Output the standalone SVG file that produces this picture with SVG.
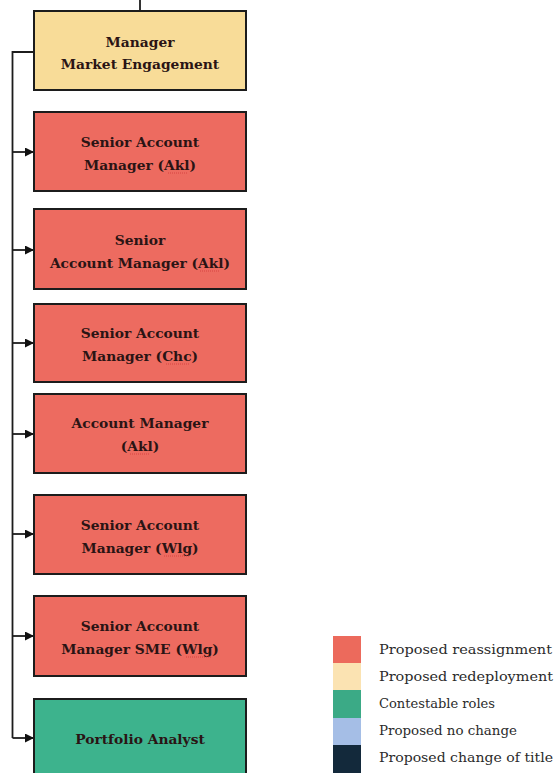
<svg xmlns="http://www.w3.org/2000/svg" width="558" height="773" viewBox="0 0 558 773">
  <style>
    .box { stroke: #1c1c1c; stroke-width: 2; }
    .red { fill: #ED6B60; }
    .cream { fill: #F8DC98; }
    .green { fill: #3DB38D; }
    .lbl { font-family: "DejaVu Serif", "Liberation Serif", serif; font-weight: bold; font-size: 13.8px; fill: #2a1414; text-anchor: middle; }
    .wire { stroke: #1c1c1c; stroke-width: 1.8; fill: none; }
    .squig { stroke: #d23a3a; stroke-width: 0.8; fill: none; stroke-dasharray: 1 1; }
    .leg { font-family: "DejaVu Serif", "Liberation Serif", serif; font-size: 13px; fill: #2b2b2b; }
  </style>
  <defs>
    <marker id="arrow" viewBox="0 0 10 10" refX="10" refY="5" markerWidth="9" markerHeight="9" markerUnits="userSpaceOnUse" orient="auto">
      <path d="M0,0 L10,5 L0,10 Z" fill="#111"/>
    </marker>
  </defs>

  <rect width="558" height="773" fill="#ffffff"/>

  <!-- connectors -->
  <g id="connectors">
    <line class="wire" x1="140" y1="0" x2="140" y2="11"/>
    <polyline class="wire" points="34,52 12.5,52 12.5,738"/>
    <line class="wire" x1="12.5" y1="152" x2="34" y2="152" marker-end="url(#arrow)"/>
    <line class="wire" x1="12.5" y1="250" x2="34" y2="250" marker-end="url(#arrow)"/>
    <line class="wire" x1="12.5" y1="343" x2="34" y2="343" marker-end="url(#arrow)"/>
    <line class="wire" x1="12.5" y1="434" x2="34" y2="434" marker-end="url(#arrow)"/>
    <line class="wire" x1="12.5" y1="534" x2="34" y2="534" marker-end="url(#arrow)"/>
    <line class="wire" x1="12.5" y1="636" x2="34" y2="636" marker-end="url(#arrow)"/>
    <line class="wire" x1="12.5" y1="738" x2="34" y2="738" marker-end="url(#arrow)"/>
  </g>

  <!-- role boxes -->
  <g id="manager-market-engagement">
    <rect class="box cream" x="34" y="11" width="212" height="79"/>
    <text class="lbl" x="140" y="47">Manager</text>
    <text class="lbl" x="140" y="69">Market Engagement</text>
  </g>

  <g id="senior-account-manager-akl-1">
    <rect class="box red" x="34" y="112" width="212" height="79"/>
    <text class="lbl" x="140" y="147">Senior Account</text>
    <text class="lbl" x="140" y="170">Manager (Akl)</text>
    <path class="squig" d="M168,173 L187,173"/>
  </g>

  <g id="senior-account-manager-akl-2">
    <rect class="box red" x="34" y="209" width="212" height="80"/>
    <text class="lbl" x="140" y="245">Senior</text>
    <text class="lbl" x="140" y="268">Account Manager (Akl)</text>
    <path class="squig" d="M200,271 L219,271"/>
  </g>

  <g id="senior-account-manager-chc">
    <rect class="box red" x="34" y="304" width="212" height="78"/>
    <text class="lbl" x="140" y="338">Senior Account</text>
    <text class="lbl" x="140" y="361">Manager (Chc)</text>
    <path class="squig" d="M166,364 L189,364"/>
  </g>

  <g id="account-manager-akl">
    <rect class="box red" x="34" y="394" width="212" height="79"/>
    <text class="lbl" x="140" y="428">Account Manager</text>
    <text class="lbl" x="140" y="451">(Akl)</text>
    <path class="squig" d="M130,454 L149,454"/>
  </g>

  <g id="senior-account-manager-wlg">
    <rect class="box red" x="34" y="495" width="212" height="79"/>
    <text class="lbl" x="140" y="530">Senior Account</text>
    <text class="lbl" x="140" y="553">Manager (Wlg)</text>
    <path class="squig" d="M164,556 L190,556"/>
  </g>

  <g id="senior-account-manager-sme-wlg">
    <rect class="box red" x="34" y="596" width="212" height="80"/>
    <text class="lbl" x="140" y="631">Senior Account</text>
    <text class="lbl" x="140" y="654">Manager SME (Wlg)</text>
    <path class="squig" d="M186,657 L212,657"/>
  </g>

  <g id="portfolio-analyst">
    <rect class="box green" x="34" y="699" width="212" height="80"/>
    <text class="lbl" x="140" y="744">Portfolio Analyst</text>
  </g>

  <!-- legend -->
  <g id="legend">
    <rect x="333" y="636" width="28" height="27" fill="#EC6A5C"/>
    <rect x="333" y="663" width="28" height="27" fill="#FBE3B2"/>
    <rect x="333" y="690" width="28" height="28" fill="#3BAA86"/>
    <rect x="333" y="718" width="28" height="27" fill="#A5BEE6"/>
    <rect x="333" y="745" width="28" height="28" fill="#13293B"/>
    <text class="leg" x="379" y="654" textLength="173" lengthAdjust="spacingAndGlyphs">Proposed reassignment</text>
    <text class="leg" x="379" y="681" textLength="174" lengthAdjust="spacingAndGlyphs">Proposed redeployment</text>
    <text class="leg" x="379" y="708" textLength="116" lengthAdjust="spacingAndGlyphs">Contestable roles</text>
    <text class="leg" x="379" y="735" textLength="138" lengthAdjust="spacingAndGlyphs">Proposed no change</text>
    <text class="leg" x="379" y="762" textLength="174" lengthAdjust="spacingAndGlyphs">Proposed change of title</text>
  </g>
</svg>
